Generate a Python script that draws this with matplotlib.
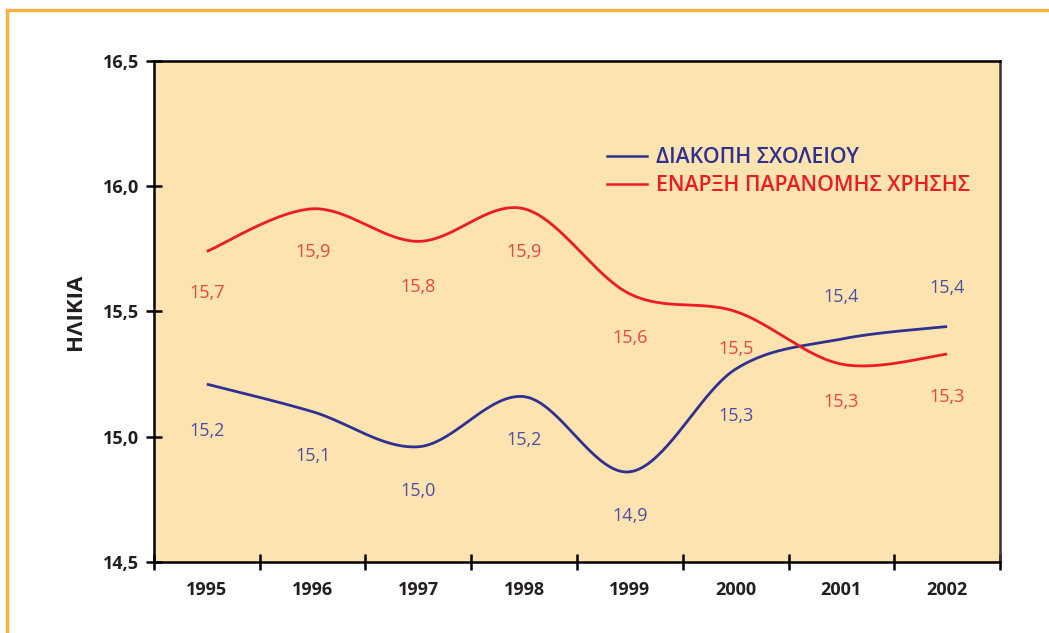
import numpy as np
import matplotlib
matplotlib.use("Agg")
import matplotlib.pyplot as plt
from matplotlib.lines import Line2D

plt.rcParams['font.family'] = ['Open Sans', 'DejaVu Sans']

# data
years = ['1995', '1996', '1997', '1998', '1999', '2000', '2001', '2002']
dropout = [15.21, 15.10, 14.96, 15.16, 14.86, 15.27, 15.39, 15.44]
first_use = [15.74, 15.91, 15.78, 15.91, 15.57, 15.50, 15.29, 15.33]
series_names = ['ΔΙΑΚΟΠΗ ΣΧΟΛΕΙΟΥ', 'ΕΝΑΡΞΗ ΠΑΡΑΝΟΜΗΣ ΧΡΗΣΗΣ']
y_ticks = [14.5, 15.0, 15.5, 16.0, 16.5]

# label placement (points above/below each marker)
dropout_offsets = [-34, -32, -32, -31, -32, -34, 30, 28]
first_use_offsets = [-30, -31, -33, -31, -32, -27, -27, -31]

BLUE = '#2E3192'
RED = '#ED1C24'
BLUE_TXT = '#4B4FA3'
RED_TXT = '#EF4444'
BG = '#FDE3AF'
FRAME = '#FBB040'


def smooth(xs, ys, n=40):
    """Catmull-Rom spline through the points (like Excel smoothed lines)"""
    p = np.column_stack([xs, ys]).astype(float)
    p = np.vstack([p[0], p, p[-1]])
    out = []
    for i in range(1, len(p) - 2):
        p0, p1, p2, p3 = p[i - 1], p[i], p[i + 1], p[i + 2]
        t = np.linspace(0, 1, n)[:, None]
        seg = 0.5 * ((2 * p1) + (-p0 + p2) * t + (2 * p0 - 5 * p1 + 4 * p2 - p3) * t ** 2
                     + (-p0 + 3 * p1 - 3 * p2 + p3) * t ** 3)
        out.append(seg)
    out = np.vstack(out)
    return out[:, 0], out[:, 1]


def fmt(v):
    return f"{v:.1f}".replace('.', ',')


fig = plt.figure(figsize=(10.49, 6.33), dpi=100)
ax = fig.add_axes([0.1468, 0.1122, 0.8065, 0.7914])
ax.set_facecolor(BG)

x = np.arange(len(years))
for vals, col, txtcol, offs in [(dropout, BLUE, BLUE_TXT, dropout_offsets),
                                (first_use, RED, RED_TXT, first_use_offsets)]:
    sx, sy = smooth(x, vals)
    ax.plot(sx, sy, color=col, lw=2.0, solid_capstyle='butt')
    for xi, v, o in zip(x, vals, offs):
        ax.annotate(fmt(v), (xi, v), xytext=(0, o), textcoords='offset points',
                    ha='center', va='center', color=txtcol, fontsize=13)

ax.set_xlim(-0.5, len(years) - 0.5)
ax.set_ylim(14.5, 16.5)
ax.set_yticks(y_ticks)
ax.set_yticklabels([fmt(v) for v in y_ticks], fontsize=13, fontweight='bold', color='#231F20')
ax.set_xticks(np.arange(-0.5, len(years), 1.0))
ax.set_xticklabels([])
ax.set_xticks(x, minor=True)
ax.set_xticklabels(years, minor=True, fontsize=13, fontweight='bold', color='#231F20')
ax.tick_params(axis='x', which='major', direction='inout', length=11, width=1.8)
ax.tick_params(axis='x', which='minor', length=0, pad=14)
ax.tick_params(axis='y', direction='inout', length=11, width=1.8, pad=5)

for s in ['left', 'bottom', 'top']:
    ax.spines[s].set_linewidth(1.8)
    ax.spines[s].set_color('black')
ax.spines['right'].set_linewidth(1.8)
ax.spines['right'].set_color('#333333')

ax.set_ylabel('ΗΛΙΚΙΑ', fontsize=16, fontweight='bold', color='#231F20', labelpad=12)

handles = [Line2D([0], [0], color=BLUE, lw=1.8), Line2D([0], [0], color=RED, lw=1.8)]
leg = ax.legend(handles, series_names, loc='upper left', bbox_to_anchor=(0.525, 0.845),
                frameon=False, prop={'size': 15.3, 'weight': 'semibold'},
                handlelength=1.9, handletextpad=0.4, labelspacing=0.32, borderaxespad=0)
for t, c in zip(leg.get_texts(), [BLUE, RED]):
    t.set_color(c)

# orange frame (top and left edges)
fig.add_artist(Line2D([0.0067, 1.0], [0.984, 0.984], color=FRAME, lw=2.4, transform=fig.transFigure))
fig.add_artist(Line2D([0.0067, 0.0067], [0.0, 0.984], color=FRAME, lw=2.4, transform=fig.transFigure))

fig.savefig('out.png', dpi=100, facecolor='white')
